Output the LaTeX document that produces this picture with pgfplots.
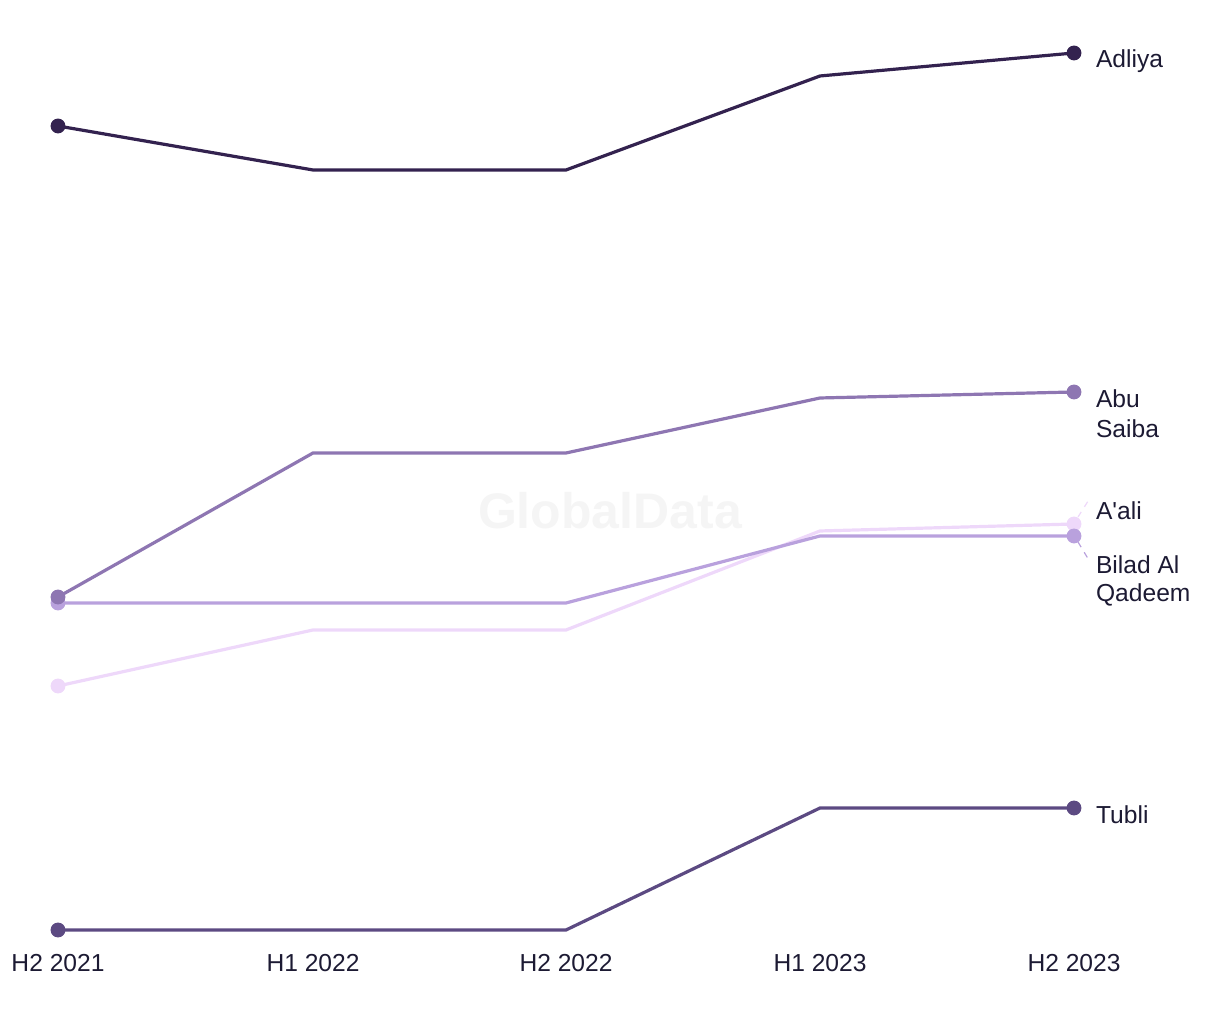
\documentclass[border=0pt]{standalone}
\usepackage{fontspec}
\setmainfont{Liberation Sans}
\usepackage{pgfplots}
\pgfplotsset{compat=1.18}
\definecolor{cAdliya}{HTML}{33224F}
\definecolor{cAbu}{HTML}{8E76B2}
\definecolor{cBilad}{HTML}{B9A1DD}
\definecolor{cAali}{HTML}{EED8FA}
\definecolor{cTubli}{HTML}{5C4A82}
\definecolor{txt}{HTML}{1C1A33}
\tikzset{lbl/.style={font=\fontsize{12.3}{15}\selectfont, text=txt}}
\begin{document}
\begin{tikzpicture}
\begin{axis}[
  x=0.5pt, y=0.5pt,
  xmin=0, xmax=1220, ymin=0, ymax=1020,
  hide axis, clip=false,
  every axis plot/.append style={line width=1.6pt, mark=*, mark indices={1,5}, mark size=2.9pt, mark options={solid}},
]
\path[use as bounding box] (axis cs:0,0) rectangle (axis cs:1220,1020);
\node[font=\fontsize{25}{25}\selectfont\bfseries, text=black!4] at (axis cs:610,509) {GlobalData};
\addplot[cAali] coordinates {(58,334) (313,390) (566,390) (820,489) (1074,496)};
\addplot[cBilad] coordinates {(58,417) (313,417) (566,417) (820,484) (1074,484)};
\addplot[cAbu] coordinates {(58,423) (313,567) (566,567) (820,622) (1074,628)};
\addplot[cTubli] coordinates {(58,90) (313,90) (566,90) (820,212) (1074,212)};
\addplot[cAdliya] coordinates {(58,894) (313,850) (566,850) (820,944) (1074,967)};
\draw[cAali, dashed, line width=0.6pt] (axis cs:1078,503) -- (axis cs:1090,522);
\draw[cBilad, dashed, line width=0.6pt] (axis cs:1078,478) -- (axis cs:1090,458);
\node[lbl, anchor=west] at (axis cs:1089,959) {Adliya};
\node[lbl, anchor=west] at (axis cs:1089,621) {Abu};
\node[lbl, anchor=west] at (axis cs:1089,591) {Saiba};
\node[lbl, anchor=west] at (axis cs:1089,509) {A\textquotesingle ali};
\node[lbl, anchor=west] at (axis cs:1089,455) {Bilad Al};
\node[lbl, anchor=west] at (axis cs:1089,425) {Qadeem};
\node[lbl, anchor=west] at (axis cs:1089,205) {Tubli};
\node[lbl] at (axis cs:58,57) {H2 2021};
\node[lbl] at (axis cs:313,57) {H1 2022};
\node[lbl] at (axis cs:566,57) {H2 2022};
\node[lbl] at (axis cs:820,57) {H1 2023};
\node[lbl] at (axis cs:1074,57) {H2 2023};
\end{axis}
\end{tikzpicture}
\end{document}
